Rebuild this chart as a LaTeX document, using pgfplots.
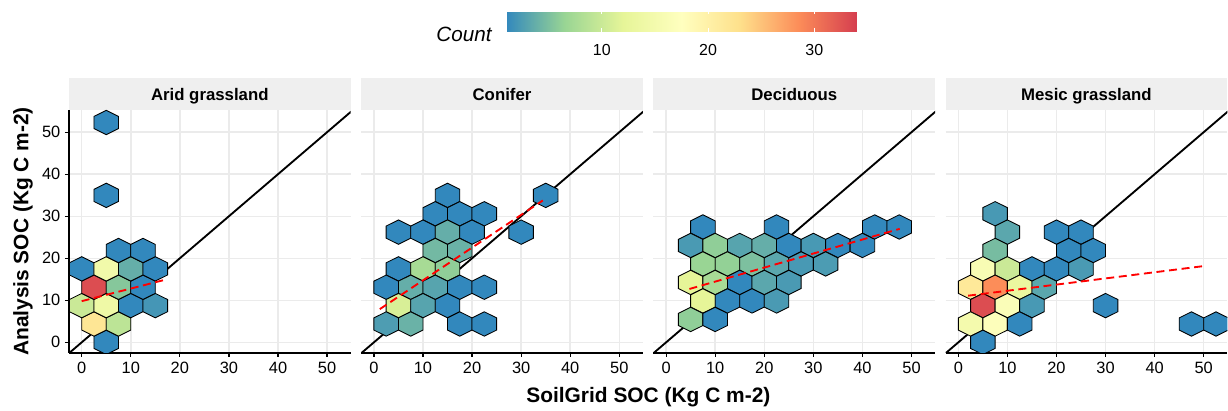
\documentclass[border=0pt]{standalone}
\usepackage{pgfplots}
\pgfplotsset{compat=1.18}
\usepackage{pgfplotstable}
\usepackage{fontspec}
\setmainfont{Liberation Sans}

\definecolor{gridc}{HTML}{EBEBEB}
\definecolor{stripc}{HTML}{EFEFEF}

% hexagon cell, sized to one hexbin cell (5 units wide, rows 4.37 apart)
\pgfdeclareplotmark{hexbin}{%
  \pgfpathmoveto{\pgfqpoint{0pt}{9.15pt}}%
  \pgfpathlineto{\pgfqpoint{9.21pt}{4.575pt}}%
  \pgfpathlineto{\pgfqpoint{9.21pt}{-4.575pt}}%
  \pgfpathlineto{\pgfqpoint{0pt}{-9.15pt}}%
  \pgfpathlineto{\pgfqpoint{-9.21pt}{-4.575pt}}%
  \pgfpathlineto{\pgfqpoint{-9.21pt}{4.575pt}}%
  \pgfpathclose
  \pgfusepathqfillstroke}

\pgfplotsset{
  /pgf/number format/assume math mode=true,
  colormap={spectralr}{rgb255=(50,136,189) rgb255=(153,213,148) rgb255=(230,245,152)
    rgb255=(255,255,191) rgb255=(254,224,139) rgb255=(252,141,89) rgb255=(213,62,79)},
  facet/.style={
    scale only axis, width=211.5pt, height=182.475pt, anchor=south west,
    xmin=-2.6, xmax=54.8, ymin=-2.52, ymax=55.3,
    xtick={0,10,...,50}, ytick={0,10,...,50},
    axis x line*=bottom, axis y line*=left,
    axis line style={line width=1.1pt},
    tick align=outside, major tick length=3pt,
    tick style={black, line width=0.9pt},
    grid=major, major grid style={gridc, line width=1.1pt},
    ticklabel style={font=\fontsize{12.3}{14}\selectfont, text=black},
    point meta min=1, point meta max=34,
    clip marker paths=true,
  },
  noy/.style={y axis line style={draw=none}, every y tick/.append style={draw=none}, yticklabels={}},
  hexes/.style={scatter, only marks, mark=hexbin, scatter src=explicit,
    scatter/use mapped color={draw=black, fill=mapped color}, mark options={line width=0.65pt}},
  oneone/.style={black, line width=1.4pt},
  fit/.style={red, line width=1.4pt, dash pattern=on 6pt off 3.5pt},
}

% hex centres and counts per panel
\pgfplotstableread{
x y c
5 0 1
2.5 4.37 22
7.5 4.37 9
0 8.74 10
5 8.74 14
10 8.74 1
15 8.74 2
2.5 13.11 33
7.5 13.11 5.5
12.5 13.11 1
0 17.48 1
5 17.48 14.5
10 17.48 3.7
15 17.48 1
7.5 21.85 1
12.5 21.85 1
5 34.96 1
5 52.3 1
}\arid
\pgfplotstableread{
x y c
15 34.96 1
35 34.96 1
12.5 30.59 1
17.5 30.59 1
22.5 30.59 1
5 26.22 1
10 26.22 1
15 26.22 3.7
20 26.22 1
30 26.22 1
12.5 21.85 4.5
17.5 21.85 4
5 17.48 1
10 17.48 7.5
15 17.48 6
2.5 13.11 1
7.5 13.11 3.7
12.5 13.11 3
17.5 13.11 1
22.5 13.11 1
5 8.74 11
10 8.74 3
15 8.74 1
2.5 4.37 2.5
7.5 4.37 4
17.5 4.37 1
22.5 4.37 1
}\conifer
\pgfplotstableread{
x y c
7.5 27.45 1
22.5 27.45 1
42.5 27.45 1
47.5 27.45 1
5 23.05 2.3
10 23.05 6
15 23.05 3
20 23.05 3.7
25 23.05 1
30 23.05 2.2
35 23.05 1
40 23.05 1
7.5 18.65 6.5
12.5 18.65 6.2
17.5 18.65 5
22.5 18.65 3.2
27.5 18.65 2.2
32.5 18.65 2.4
5 14.25 12
10 14.25 7.5
15 14.25 1
20 14.25 3.2
25 14.25 2.3
7.5 9.85 12
12.5 9.85 1
17.5 9.85 1
22.5 9.85 2.3
5 5.45 6
10 5.45 1
}\decid
\pgfplotstableread{
x y c
7.5 30.59 2.2
10 26.22 3.2
20 26.22 1
25 26.22 1
7.5 21.85 4.7
22.5 21.85 1
27.5 21.85 1
5 17.48 16
10 17.48 10
15 17.48 1
20 17.48 1
25 17.48 2.3
2.5 13.11 21.5
7.5 13.11 28.5
12.5 13.11 13
17.5 13.11 3.2
5 8.74 33
10 8.74 16.5
15 8.74 2.2
30 8.74 1
2.5 4.37 15
7.5 4.37 17
12.5 4.37 1
47.5 4.37 1
52.5 4.37 1
5 0 1
}\mesic

\begin{document}
\begin{tikzpicture}
\begin{scope}[x=0.75pt,y=0.75pt]
\path[use as bounding box] (0,0) rectangle (1228,411);
% facet strips
\foreach \xo/\lab in {69/Arid grassland,361.5/Conifer,654/Deciduous,946.5/Mesic grassland}{
  \fill[stripc] (\xo,301) rectangle ++(282,31.5);
  \node[anchor=base, font=\bfseries\fontsize{12.6}{14}\selectfont] at (\xo+141,310.3) {\lab};
}
\node[anchor=base, font=\bfseries\fontsize{15.7}{18}\selectfont] at (649,7.7) {SoilGrid SOC (Kg C m-2)};
\node[anchor=base, rotate=90, font=\bfseries\fontsize{15.7}{18}\selectfont] at (28.5,179.3) {Analysis SOC (Kg C m-2)};
\node[anchor=base east, font=\itshape\fontsize{15.5}{18}\selectfont] at (496.7,369.3) {Count};
\end{scope}

\begin{axis}[facet, at={(51.75pt,43.275pt)}]
\addplot[oneone] coordinates {(-5,-5) (60,60)};
\addplot[hexes] table[x=x, y=y, meta=c] {\arid};
\addplot[fit] coordinates {(0,9.8) (16.7,14.8)};
\end{axis}

\begin{axis}[facet, noy, at={(271.125pt,43.275pt)}]
\addplot[oneone] coordinates {(-5,-5) (60,60)};
\addplot[hexes] table[x=x, y=y, meta=c] {\conifer};
\addplot[fit] coordinates {(1.2,7.9) (34.4,33.75)};
\end{axis}

\begin{axis}[facet, noy, at={(490.5pt,43.275pt)}]
\addplot[oneone] coordinates {(-5,-5) (60,60)};
\addplot[hexes] table[x=x, y=y, meta=c] {\decid};
\addplot[fit] coordinates {(4.75,12.7) (47.6,27.0)};
\end{axis}

\begin{axis}[facet, noy, at={(709.875pt,43.275pt)}]
\addplot[oneone] coordinates {(-5,-5) (60,60)};
\addplot[hexes] table[x=x, y=y, meta=c] {\mesic};
\addplot[fit] coordinates {(2.0,11.1) (49.7,18.1)};
\end{axis}

% colour key
\begin{axis}[hide axis, scale only axis, width=1pt, height=1pt, anchor=south west,
  at={(380.0pt,284.5pt)},
  point meta min=1, point meta max=34,
  colorbar horizontal,
  colorbar style={at={(0,0)}, anchor=south west,
    width=263.25pt, height=16.3pt,
    xtick={10,20,30},
    tick align=inside, major tick length=3pt,
    tick style={white, line width=0.6pt},
    axis line style={draw=none},
    xticklabel style={font=\fontsize{12}{14}\selectfont, text=black, yshift=-6pt}}]
\addplot[draw=none] coordinates {(0,0)};
\end{axis}
\end{tikzpicture}
\end{document}
